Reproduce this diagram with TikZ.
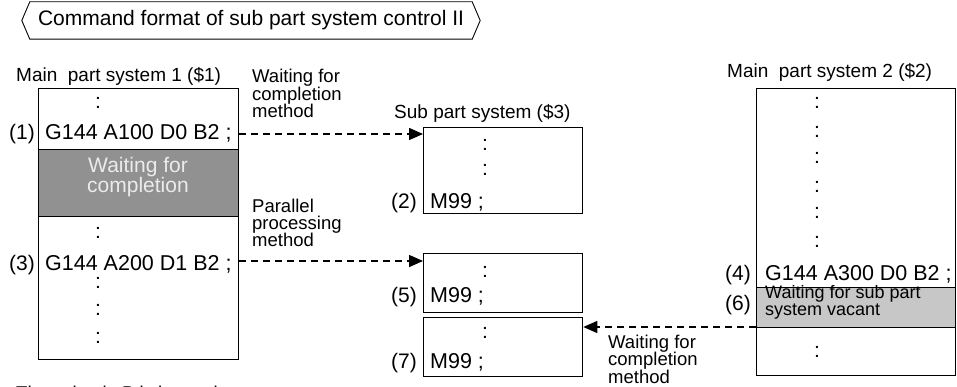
\documentclass[tikz,border=0pt]{standalone}
\usepackage{fontspec}
\setmainfont{Liberation Sans}
\usetikzlibrary{arrows.meta}
\tikzset{
  titletxt/.style={inner sep=0pt, font=\fontsize{21}{17}\selectfont},
  headtxt/.style={inner sep=0pt, font=\fontsize{19}{17}\selectfont},
  labtxt/.style={inner sep=0pt, font=\fontsize{18.5}{17.5}\selectfont, align=left},
  codetxt/.style={inner sep=0pt, font=\fontsize{21.5}{17}\selectfont},
  numtxt/.style={inner sep=0pt, font=\fontsize{21}{17}\selectfont, anchor=base east},
  graytxt/.style={inner sep=0pt, font=\fontsize{21}{16.5}\selectfont, align=center},
  smalltxt/.style={inner sep=0pt, font=\fontsize{18}{14.5}\selectfont, align=left},
  dots/.style={inner sep=0pt, font=\fontsize{21}{17}\selectfont},
  codebox/.style={draw, line width=1.3pt, inner sep=0pt, anchor=north west},
  dasharrow/.style={line width=1.4pt, dash pattern=on 7pt off 5pt, -{Triangle[length=14pt,width=12pt]}},
}
\begin{document}
\begin{tikzpicture}[x=1pt,y=-1pt]
\clip (0,0) rectangle (957,387);
% title
\node[titletxt, minimum width=442pt, minimum height=37pt] (title) at (251,20.5) {Command format of sub part system control II};
\draw[line width=0.9pt] (title.north west) -- (title.north east) -- ([xshift=8pt]title.east) -- (title.south east) -- (title.south west) -- ([xshift=-8pt]title.west) -- cycle;

% main part system 1
\node[headtxt, anchor=base west] (h1) at (16,82) {Main\ \ part system 1 (\$1)};
\node[codebox, fill=white, minimum width=200pt, minimum height=271pt] (m1) at (38,88) {};
\node[codebox, fill=black!43, minimum width=200pt, minimum height=67pt] (g1) at (38,149) {};
\node[graytxt, text=black!8, anchor=base] (g1t) at (138,193) {Waiting for\\completion};
\node[dots] (d11) at (98,103) {:};
\node[numtxt] (n1) at (35,140) {(1)};
\node[codetxt, anchor=base west] (c1) at (45,140) {G144 A100 D0 B2 ;};
\node[dots] (d12) at (98,233) {:};
\node[numtxt] (n3) at (35,270) {(3)};
\node[codetxt, anchor=base west] (c3) at (45,270) {G144 A200 D1 B2 ;};
\node[dots] (d13) at (98,283) {:};
\node[dots] (d14) at (98,310) {:};
\node[dots] (d15) at (98,338) {:};

% labels between
\node[labtxt, anchor=base west] (lab1) at (252,118) {Waiting for\\completion\\method};
\node[labtxt, anchor=base west] (lab2) at (252,247) {Parallel\\processing\\method};

% sub part system
\node[headtxt, anchor=base west] (h3) at (394,119) {Sub part system (\$3)};
\node[codebox, minimum width=159pt, minimum height=86pt] (sa) at (423,127) {};
\node[dots] (da1) at (485,145) {:};
\node[dots] (da2) at (485,170) {:};
\node[numtxt] (n2) at (417,208) {(2)};
\node[codetxt, anchor=base west] (c2) at (430,208) {M99 ;};
\node[codebox, minimum width=159pt, minimum height=59pt] (sb) at (423,253) {};
\node[dots] (db1) at (485,272) {:};
\node[numtxt] (n5) at (417,302) {(5)};
\node[codetxt, anchor=base west] (c5) at (430,302) {M99 ;};
\node[codebox, minimum width=159pt, minimum height=59pt] (sc) at (423,317) {};
\node[dots] (dc1) at (485,333) {:};
\node[numtxt] (n7) at (417,368) {(7)};
\node[codetxt, anchor=base west] (c7) at (430,368) {M99 ;};

% main part system 2
\node[headtxt, anchor=base west] (h2) at (727,78) {Main\ \ part system 2 (\$2)};
\node[codebox, minimum width=199pt, minimum height=287pt] (m2) at (756,88) {};
\node[codebox, fill=black!22, minimum width=199pt, minimum height=40pt] (g2) at (756,287) {};
\node[smalltxt, anchor=base west] (g2t) at (765,315) {Waiting for sub part\\system vacant};
\foreach \yy [count=\i] in {103,132,158,187,213,242} {
  \node[dots] (dr\i) at (817,\yy) {:};
}
\node[numtxt] (n4) at (751,280) {(4)};
\node[codetxt, anchor=base west] (c4) at (765,280) {G144 A300 D0 B2 ;};
\node[numtxt] (n6) at (751,310) {(6)};
\node[dots] (dr7) at (817,352) {:};
\node[labtxt, anchor=base west] (lab3) at (608,383) {Waiting for\\completion\\method};

% connectors
\coordinate (y1) at (0,134);
\coordinate (y2) at (0,261);
\coordinate (y3) at (0,327);
\draw[dasharrow] (m1.east |- y1) -- (sa.west |- y1);
\draw[dasharrow] (m1.east |- y2) -- (sb.west |- y2);
\draw[dasharrow] (m2.west |- y3) -- (sc.east |- y3);

% clipped footnote
\node[labtxt, anchor=base west] (foot) at (16,399) {The value in B is interval};
\end{tikzpicture}
\end{document}
